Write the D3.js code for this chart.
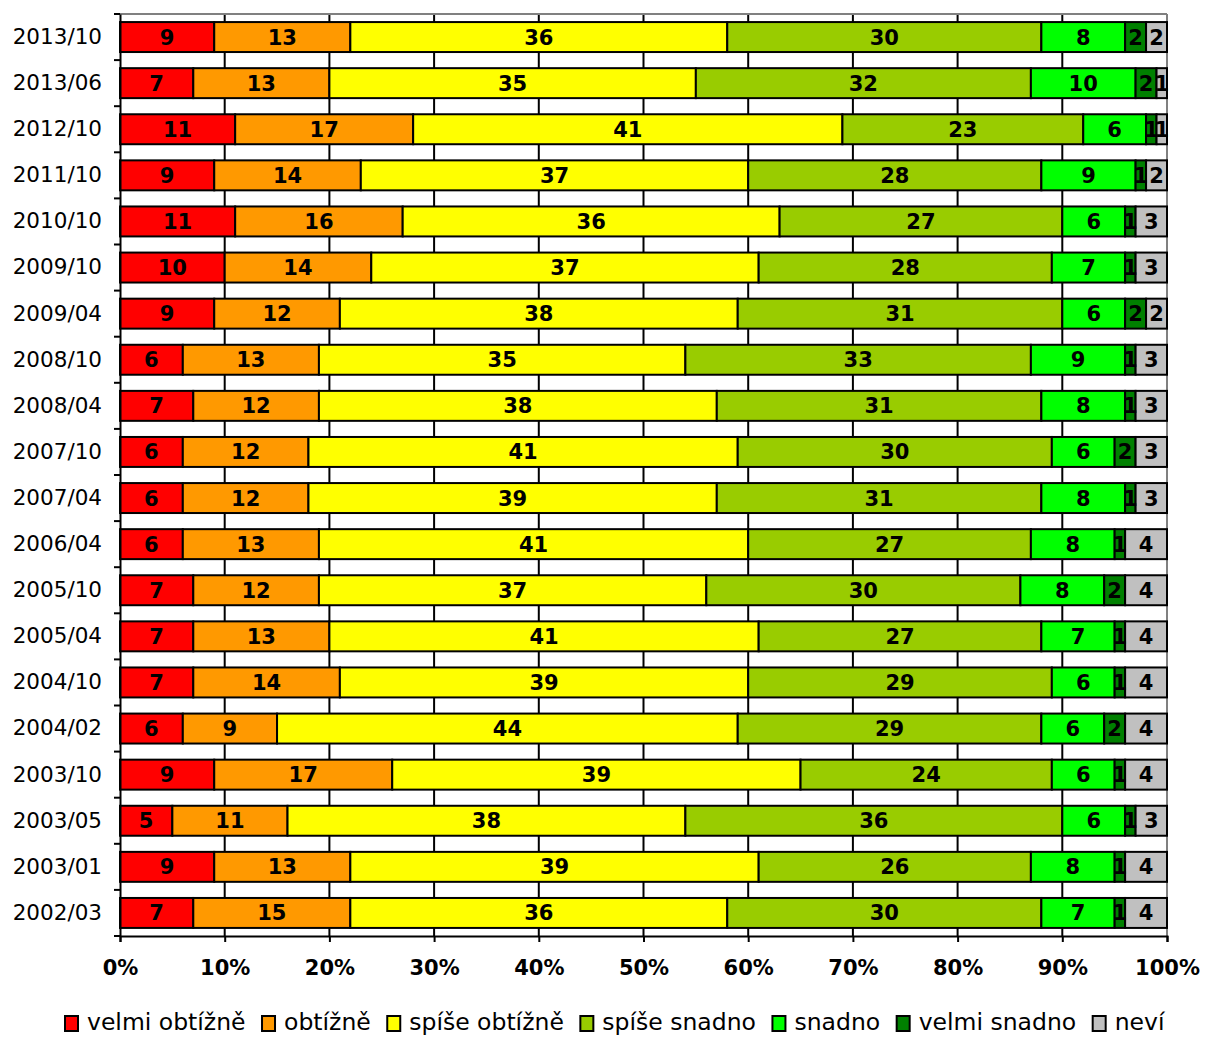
<!DOCTYPE html>
<html><head><meta charset="utf-8">
<script src="https://cdn.jsdelivr.net/npm/d3@7"></script>
<style>body{margin:0;background:#fff}svg{display:block}</style>
</head><body>
<svg id="chart" width="1205" height="1037"></svg>
<script>
const categories = ["2013/10","2013/06","2012/10","2011/10","2010/10","2009/10","2009/04","2008/10","2008/04","2007/10","2007/04","2006/04","2005/10","2005/04","2004/10","2004/02","2003/10","2003/05","2003/01","2002/03"];
const seriesNames = ["velmi obtížně","obtížně","spíše obtížně","spíše snadno","snadno","velmi snadno","neví"];
const seriesColors = ["#FF0000","#FF9900","#FFFF00","#99CC00","#00FF00","#008000","#C0C0C0"];
const velmiObtizne = [9,7,11,9,11,10,9,6,7,6,6,6,7,7,7,6,9,5,9,7];
const obtizne      = [13,13,17,14,16,14,12,13,12,12,12,13,12,13,14,9,17,11,13,15];
const spiseObtizne = [36,35,41,37,36,37,38,35,38,41,39,41,37,41,39,44,39,38,39,36];
const spiseSnadno  = [30,32,23,28,27,28,31,33,31,30,31,27,30,27,29,29,24,36,26,30];
const snadno       = [8,10,6,9,6,7,6,9,8,6,8,8,8,7,6,6,6,6,8,7];
const velmiSnadno  = [2,2,1,1,1,1,2,1,1,2,1,1,2,1,1,2,1,1,1,1];
const nevi         = [2,1,1,2,3,3,2,3,3,3,3,4,4,4,4,4,4,3,4,4];
const xTicks = [0,10,20,30,40,50,60,70,80,90,100];

const seriesValues = [velmiObtizne,obtizne,spiseObtizne,spiseSnadno,snadno,velmiSnadno,nevi];

const svg = d3.select("#chart");
const L=120, R=1167, T=14, B=936;
const x = d3.scaleLinear().domain([0,100]).range([L,R]);
const y = d3.scaleBand().domain(categories).range([T,B]).paddingInner(0.35).paddingOuter(0.175);

// gridlines
svg.append("g").selectAll("line").data(xTicks.filter(t=>t>0&&t<100)).join("line")
  .attr("x1",d=>x(d)).attr("x2",d=>x(d)).attr("y1",T).attr("y2",B)
  .attr("stroke","#000").attr("stroke-width",2);
// top/right border
svg.append("line").attr("x1",L).attr("x2",R).attr("y1",T).attr("y2",T).attr("stroke","#808080").attr("stroke-width",2);
svg.append("line").attr("x1",R).attr("x2",R).attr("y1",T).attr("y2",B).attr("stroke","#808080").attr("stroke-width",2);

// stacked data
const rows = categories.map((c,i)=>{
  let acc=0;
  const total = seriesValues.reduce((s,a)=>s+a[i],0);
  return seriesValues.map((arr,k)=>{
    const v = arr[i]/total*100;
    const seg = {cat:c,k, v:arr[i], x0:acc, x1:acc+v};
    acc+=v; return seg;
  });
}).flat();

const g = svg.append("g");
g.selectAll("rect").data(rows).join("rect")
  .attr("x",d=>x(d.x0)).attr("width",d=>x(d.x1)-x(d.x0))
  .attr("y",d=>y(d.cat)).attr("height",y.bandwidth())
  .attr("fill",d=>seriesColors[d.k]).attr("stroke","#000").attr("stroke-width",2);
g.selectAll("text").data(rows).join("text")
  .attr("x",d=>(x(d.x0)+x(d.x1))/2).attr("y",d=>y(d.cat)+y.bandwidth()/2+7.5)
  .attr("text-anchor","middle").attr("font-family","DejaVu Sans").attr("font-weight","bold")
  .attr("font-size",21).attr("fill","#000").text(d=>d.v);

// axes
const xAxis = d3.axisBottom(x).tickValues(xTicks).tickFormat(d=>d+"%").tickSize(6).tickPadding(18);
const gx = svg.append("g").attr("transform",`translate(0,${B})`).call(xAxis);
gx.select(".domain").attr("stroke","#000").attr("stroke-width",2);
gx.selectAll(".tick line").attr("stroke","#000").attr("stroke-width",2);
gx.selectAll("text").attr("font-family","DejaVu Sans").attr("font-weight","bold").attr("font-size",21).attr("fill","#000");

const gy = svg.append("g").attr("transform",`translate(${L},0)`).call(d3.axisLeft(y).tickSize(0).tickPadding(18));
gy.select(".domain").attr("stroke","#000").attr("stroke-width",2);
gy.selectAll("text").attr("font-family","DejaVu Sans").attr("font-size",21.5).attr("fill","#000");
// y ticks at band boundaries
const bounds = d3.range(categories.length+1).map(i=>T+i*(B-T)/categories.length);
svg.append("g").selectAll("line").data(bounds).join("line")
  .attr("x1",L-6).attr("x2",L).attr("y1",d=>d).attr("y2",d=>d).attr("stroke","#000").attr("stroke-width",2);

// legend
const leg = svg.append("g").attr("font-family","DejaVu Sans").attr("font-size",23.5);
let lx = 65;
seriesNames.forEach((n,k)=>{
  const it = leg.append("g");
  it.append("rect").attr("x",lx).attr("y",1016).attr("width",13).attr("height",15)
    .attr("fill",seriesColors[k]).attr("stroke","#000").attr("stroke-width",2);
  const t = it.append("text").attr("x",lx+22).attr("y",1030).attr("fill","#000").text(n);
  lx += 22 + t.node().getComputedTextLength() + 16.5;
});
</script>
</body></html>
